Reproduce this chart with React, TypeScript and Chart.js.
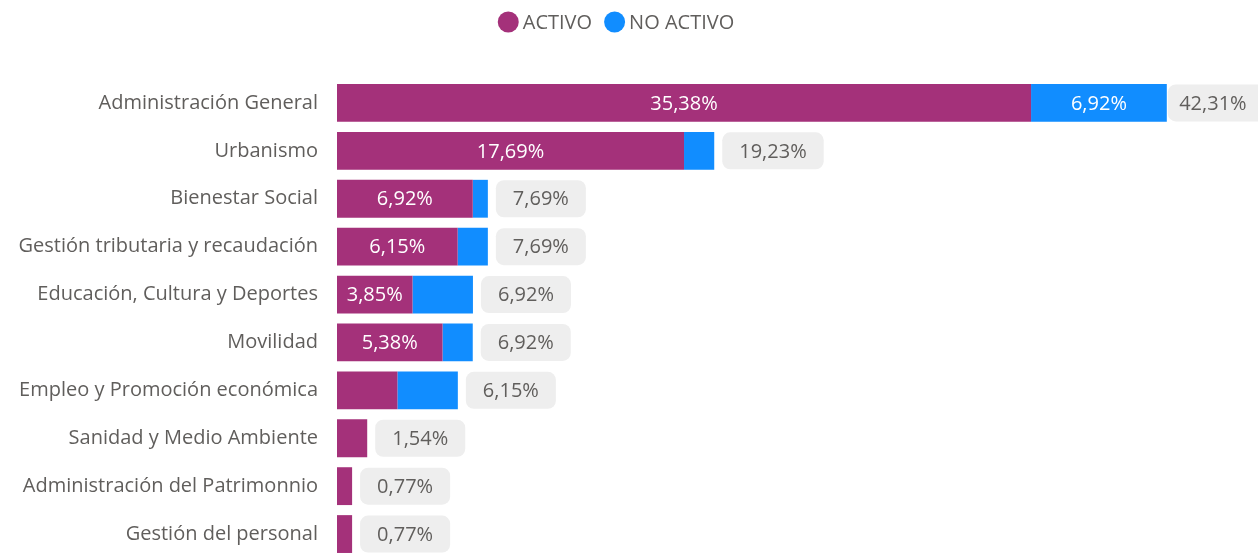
import React, { useEffect, useRef } from "react";
import { Chart, registerables } from "chart.js";

Chart.register(...registerables);

const categories = [
  "Administración General",
  "Urbanismo",
  "Bienestar Social",
  "Gestión tributaria y recaudación",
  "Educación, Cultura y Deportes",
  "Movilidad",
  "Empleo y Promoción económica",
  "Sanidad y Medio Ambiente",
  "Administración del Patrimonnio",
  "Gestión del personal",
];
const seriesNames = ["ACTIVO", "NO ACTIVO"];
const activo = [35.38, 17.69, 6.92, 6.15, 3.85, 5.38, 3.08, 1.54, 0.77, 0.77];
const noActivo = [6.92, 1.54, 0.77, 1.54, 3.08, 1.54, 3.08, 0, 0, 0];
const totals = [42.31, 19.23, 7.69, 7.69, 6.92, 6.92, 6.15, 1.54, 0.77, 0.77];

const COLORS = ["#A4317A", "#118DFF"];
const FONT = "'Open Sans', sans-serif";
const FONT_SIZE = 20;
const TEXT_GREY = "#605E5C";
const VIEW_W = 1258;
const VIEW_H = 554;
const CANVAS_H = 558;

const fmt = (v: number) => v.toFixed(2).replace(".", ",") + "%";

const labelsPlugin = {
  id: "customLabels",
  afterDatasetsDraw(chart: any) {
    const ctx = chart.ctx;
    ctx.save();
    ctx.font = `${FONT_SIZE}px ${FONT}`;
    ctx.textBaseline = "middle";
    chart.data.datasets.forEach((ds: any, di: number) => {
      const meta = chart.getDatasetMeta(di);
      meta.data.forEach((el: any, i: number) => {
        const v = ds.data[i];
        const { x, base, y } = el.getProps(["x", "base", "y"], true);
        const w = Math.abs(x - base);
        const txt = fmt(v);
        const tw = ctx.measureText(txt).width;
        if (v > 0 && w >= tw + 8) {
          ctx.fillStyle = "#FFFFFF";
          ctx.textAlign = "center";
          ctx.fillText(txt, (x + base) / 2, y + 1);
        }
      });
    });
    const xs = chart.scales.x;
    const meta0 = chart.getDatasetMeta(0);
    const W = chart.width;
    totals.forEach((t, i) => {
      const end = xs.getPixelForValue(activo[i] + noActivo[i]);
      const y = meta0.data[i].y;
      const txt = fmt(t);
      const tw = ctx.measureText(txt).width;
      const bw = tw + 34;
      let left = end + 8;
      if (left + bw > W) left = Math.max(end + 1, W - bw);
      const boxW = Math.min(bw, W - left);
      ctx.fillStyle = "#EEEEEE";
      ctx.beginPath();
      ctx.roundRect(left, y - 18.5, bw, 37, 8);
      ctx.fill();
      ctx.fillStyle = TEXT_GREY;
      ctx.textAlign = "center";
      ctx.fillText(txt, left + boxW / 2, y + 1);
    });
    ctx.restore();
  },
};

const legendPlugin = {
  id: "customLegend",
  afterDraw(chart: any) {
    const ctx = chart.ctx;
    ctx.save();
    ctx.font = `${FONT_SIZE}px ${FONT}`;
    ctx.textBaseline = "middle";
    ctx.textAlign = "left";
    const r = 10.5;
    const gapText = 4;
    const gapItem = 12;
    const widths = seriesNames.map((n) => 2 * r + gapText + ctx.measureText(n).width);
    const total = widths.reduce((a, b) => a + b, 0) + gapItem * (seriesNames.length - 1);
    let x = 616 - total / 2;
    const cy = 22;
    seriesNames.forEach((n, i) => {
      ctx.fillStyle = COLORS[i];
      ctx.beginPath();
      ctx.arc(x + r, cy, r, 0, Math.PI * 2);
      ctx.fill();
      ctx.fillStyle = TEXT_GREY;
      ctx.fillText(n, x + 2 * r + gapText, cy + 1);
      x += widths[i] + gapItem;
    });
    ctx.restore();
  },
};

export default function App() {
  const canvasRef = useRef<HTMLCanvasElement | null>(null);

  useEffect(() => {
    if (!canvasRef.current) return;
    const chart = new Chart(canvasRef.current, {
      type: "bar",
      data: {
        labels: categories,
        datasets: [
          {
            label: seriesNames[0],
            data: activo,
            backgroundColor: COLORS[0],
            borderWidth: 0,
            barPercentage: 0.79,
            categoryPercentage: 1,
          },
          {
            label: seriesNames[1],
            data: noActivo,
            backgroundColor: COLORS[1],
            borderWidth: 0,
            barPercentage: 0.79,
            categoryPercentage: 1,
          },
        ],
      },
      options: {
        indexAxis: "y",
        animation: false,
        responsive: false,
        maintainAspectRatio: false,
        devicePixelRatio: 1,
        layout: { padding: { top: 79, right: 91, bottom: 0, left: 0 } },
        plugins: {
          legend: { display: false },
          tooltip: { enabled: false },
        },
        scales: {
          x: {
            stacked: true,
            display: false,
            min: 0,
            max: 42.31,
          },
          y: {
            stacked: true,
            grid: { display: false, drawTicks: false },
            border: { display: false },
            ticks: {
              padding: 19,
              color: TEXT_GREY,
              font: { family: FONT, size: FONT_SIZE },
              autoSkip: false,
            },
            afterFit: (scale: any) => {
              scale.width = 337;
              scale.paddingTop = 0;
              scale.paddingBottom = 0;
            },
          },
        },
      },
      plugins: [labelsPlugin, legendPlugin],
    } as any);
    return () => chart.destroy();
  }, []);

  return (
    <div
      style={{
        position: "fixed",
        left: 0,
        top: 0,
        width: VIEW_W,
        height: VIEW_H,
        overflow: "hidden",
        background: "#fff",
      }}
    >
      <canvas
        ref={canvasRef}
        width={VIEW_W}
        height={CANVAS_H}
        style={{ display: "block", width: VIEW_W, height: CANVAS_H }}
      />
    </div>
  );
}
